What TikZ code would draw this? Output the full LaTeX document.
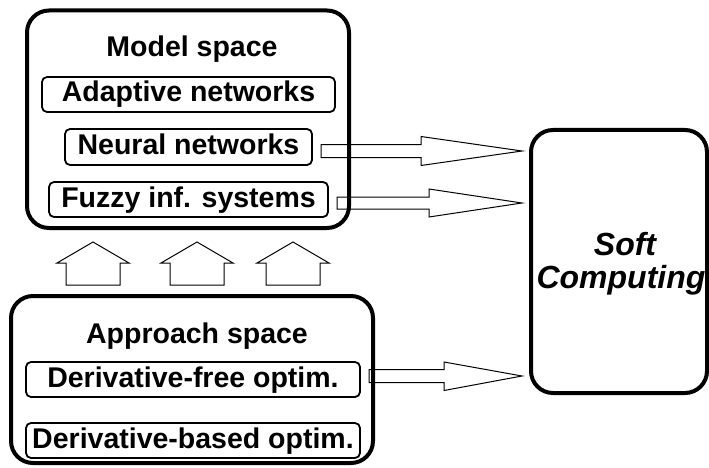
\documentclass[tikz,border=0pt]{standalone}
\usepackage{fontspec}
\setmainfont{Liberation Sans}
\begin{document}
\begin{tikzpicture}[x=1pt,y=-1pt,
  bigbox/.style={draw,line width=4pt,rounded corners=22pt,rectangle,inner sep=0pt},
  itembox/.style={draw,line width=1.8pt,rounded corners=5pt,rectangle,inner sep=0pt,
    text height=20pt,text depth=5pt,font=\fontsize{28.5}{30}\selectfont\bfseries},
  titletext/.style={anchor=base,inner sep=0pt,font=\fontsize{28.5}{30}\selectfont\bfseries},
  softtext/.style={anchor=base,inner sep=0pt,font=\fontsize{32}{34}\selectfont\bfseries\itshape},
  hollow/.style={draw,line width=1pt,line join=miter}]
\useasboundingbox (0,0) rectangle (709,468);

% block arrows to Soft Computing
\draw[hollow] (321,144.5) -- (421,144.5) -- (421,136.5) -- (522,151) -- (421,165.5) -- (421,157.5) -- (321,157.5) -- cycle;
\draw[hollow] (337,197) -- (429,197) -- (429,189) -- (522,203) -- (429,217) -- (429,209) -- (337,209) -- cycle;
\draw[hollow] (369,369.5) -- (444,369.5) -- (444,362) -- (522,376) -- (444,390.5) -- (444,382.5) -- (369,382.5) -- cycle;

% upward block arrows
\foreach \cx in {93,197,293}{
  \draw[hollow] (\cx-27,285) -- (\cx-27,263) -- (\cx-36,263) -- (\cx,242) -- (\cx+36,263) -- (\cx+27,263) -- (\cx+27,285) -- cycle;
}

% Model space
\node[bigbox,minimum width=322pt,minimum height=217.5pt] (model) at (188,119.25) {};
\node[titletext] (modeltitle) at (192,57) {Model space};
\node[itembox,minimum width=293pt,minimum height=35pt] (adaptive) at (188.5,94.5) {Adaptive networks};
\node[itembox,minimum width=247pt,minimum height=36pt] (neural) at (188.5,147) {Neural networks};
\node[itembox,minimum width=279pt,minimum height=35pt] (fuzzy) at (188.5,199.5) {Fuzzy inf. systems};

% Approach space
\node[bigbox,minimum width=362pt,minimum height=167pt] (approach) at (192,379.5) {};
\node[titletext] (approachtitle) at (197,343) {Approach space};
\node[itembox,minimum width=334pt,minimum height=35pt] (dfree) at (193,379.5) {Derivative-free optim.};
\node[itembox,minimum width=334pt,minimum height=35pt] (dbased) at (193,440.5) {Derivative-based optim.};

% Soft Computing
\node[bigbox,minimum width=176pt,minimum height=263pt] (soft) at (619,261.5) {};
\node[softtext] (softa) at (625,255) {Soft};
\node[softtext] (softb) at (621,288) {Computing};
\end{tikzpicture}
\end{document}
